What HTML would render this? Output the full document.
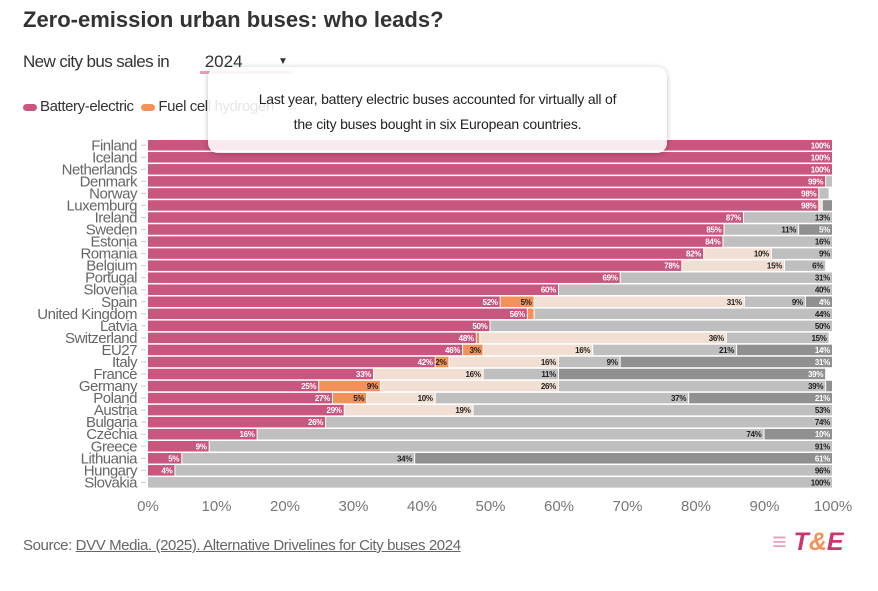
<!DOCTYPE html>
<html><head><meta charset="utf-8"><style>
body{margin:0;width:878px;height:591px;background:#fff;font-family:"Liberation Sans",sans-serif;overflow:hidden;position:relative}
.t{position:absolute;white-space:nowrap}
</style></head><body>
<div class="t" style="left:23px;top:7px;font-size:22px;font-weight:bold;color:#333">Zero-emission urban buses: who leads?</div>
<div class="t" style="left:23px;top:52px;font-size:17px;color:#333;letter-spacing:-0.6px">New city bus sales in</div>
<div class="t" style="left:200px;top:52px;width:93px;height:19px;font-size:17px;color:#333;border-bottom:3px solid #e8a0ba">&nbsp;2024<span style="position:absolute;left:78px;top:4px;font-size:10px">▼</span></div>
<div class="t" style="left:23px;top:98px;font-size:15px;color:#333;letter-spacing:-0.4px">
<span><span style="display:inline-block;width:14px;height:7px;border-radius:4px;background:#c8567f;margin-right:3px"></span>Battery-electric</span>
<span style="margin-left:4px"><span style="display:inline-block;width:14px;height:7px;border-radius:4px;background:#f4915a;margin-right:3px"></span>Fuel cell hydrogen</span>
</div>
<svg id="c" width="878" height="591" style="position:absolute;left:0;top:0"></svg>
<div class="t" style="left:208px;top:67px;width:459px;height:86px;background:rgba(255,255,255,0.88);border-radius:10px;box-shadow:0 1px 6px rgba(0,0,0,0.25);font-size:14px;letter-spacing:-0.2px;color:#222;text-align:center;line-height:25px;padding-top:20px;box-sizing:border-box;white-space:normal">Last year, battery electric buses accounted for virtually all of<br>the city buses bought in six European countries.</div>
<div class="t" style="left:23px;top:537px;font-size:15px;color:#666;letter-spacing:-0.4px">Source: <span style="text-decoration:underline">DVV Media. (2025). Alternative Drivelines for City buses 2024</span></div>
<div class="t" style="left:772px;top:528px;font-size:25px;font-weight:bold;font-style:italic;color:#c8386f"><span style="color:#e8a0ba">≡</span> T<span style="color:#f4915a">&amp;</span>E</div>
<script>
const countries=["Finland","Iceland","Netherlands","Denmark","Norway","Luxemburg","Ireland","Sweden","Estonia","Romania","Belgium","Portugal","Slovenia","Spain","United Kingdom","Latvia","Switzerland","EU27","Italy","France","Germany","Poland","Austria","Bulgaria","Czechia","Greece","Lithuania","Hungary","Slovakia"];
const battery=[100,100,100,99,98,98,87,85,84,82,78,69,60,52,56,50,48,46,42,33,25,27,29,26,16,9,5,4,0];
const fuelcell=[0,0,0,0,0,0,0,0,0,0,0,0,0,5,1,0,0.5,3,2,0,9,5,0,0,0,0,0,0,0];
const hybrid=[0,0,0,0,0,0.5,0,0,0,10,15,0,0,31,0,0,36,16,16,16,26,10,19,0,0,0,0,0,0];
const diesel=[0,0,0,1,1.5,0,13,11,16,9,6,31,40,9,44,50,15,21,9,11,39,37,53,74,74,91,34,96,100];
const gas=[0,0,0,0,0,1.5,0,5,0,0,0,0,0,4,0,0,0,14,31,39,1,21,0,0,10,0,61,0,0];
const ticks=[0,10,20,30,40,50,60,70,80,90,100];
const series=[battery,fuelcell,hybrid,diesel,gas];
const names=["battery","fuel-cell","hybrid","diesel","gas"];
const colors=["#c8567f","#f4915a","#f0dfd2","#bfbfbf","#909090"];
const txt=["#fff","#222","#222","#222","#fff"];
const NS="http://www.w3.org/2000/svg",svg=document.getElementById("c");
const x0=148,x1=833,y0=140,step=12.04,bh=10.5;
const X=v=>x0+(x1-x0)*v/100, Y=i=>y0+i*step;
function el(t,a){const e=document.createElementNS(NS,t);for(const k in a)e.setAttribute(k,a[k]);svg.appendChild(e);return e;}
ticks.forEach(t=>{const e=el("text",{x:X(t),y:511,"text-anchor":"middle","font-size":15,fill:"#777"});e.textContent=t+"%";

});
countries.forEach((c,i)=>{
 const l=el("text",{x:137,y:Y(i)+bh/2+5,"text-anchor":"end","font-size":15,fill:"#666","letter-spacing":"-0.5"});l.textContent=c;
 
 
 el("line",{x1:141,x2:146,y1:Y(i)+bh/2,y2:Y(i)+bh/2,stroke:"#ccc"});
 let total=0;series.forEach(s=>total+=s[i]);
 const sc=total>100?100/total:1;
 let acc=0;
 series.forEach((s,k)=>{const v=s[i];if(v<=0)return;
  const w=v*sc;
  const r=el("rect",{x:X(acc),y:Y(i),width:Math.max(0,X(acc+w)-X(acc)-1),height:bh,fill:colors[k]});
  
  
  acc+=w;
  if(v>=2){const t=el("text",{x:Math.min(X(acc)-3,x1-1),y:Y(i)+bh/2+3,"text-anchor":"end","font-size":8,"font-weight":"bold",fill:txt[k],"letter-spacing":"-0.3"});t.textContent=Math.round(v)+"%";
   
   }
 });
});
</script>
</body></html>
